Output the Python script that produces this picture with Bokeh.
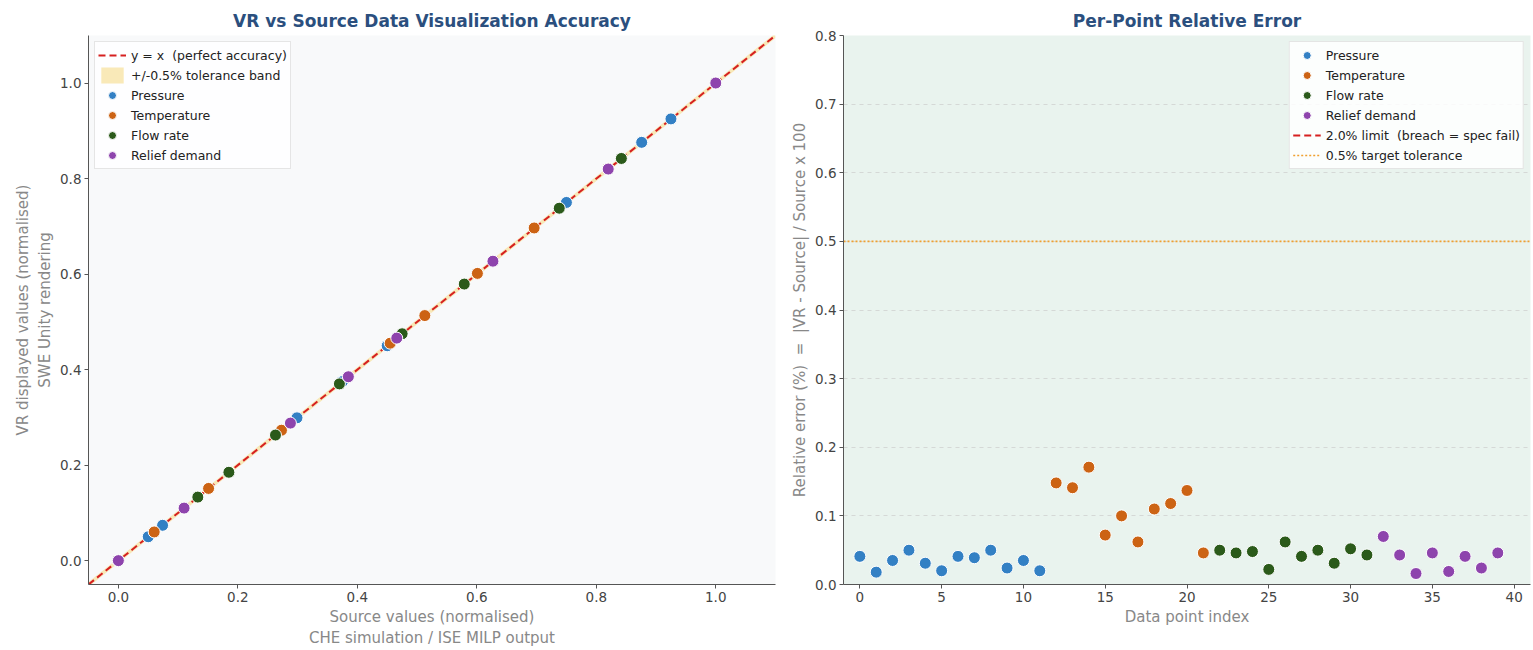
from bokeh.plotting import figure
from bokeh.layouts import row
from bokeh.models import Legend, LegendItem, FixedTicker, PrintfTickFormatter
from bokeh.embed import file_html
from bokeh.resources import INLINE

# ---------------- data ----------------
categories = ["Pressure", "Temperature", "Flow rate", "Relief demand"]
colors = ["#3380c4", "#cc6314", "#2b5a1a", "#8e44ad"]

# normalised source values per category (left panel, x)
src_pressure = [0.0, 0.05, 0.074, 0.299, 0.375, 0.45, 0.466, 0.75, 0.82, 0.876, 0.925, 1.0]
src_temperature = [0.0, 0.06, 0.151, 0.273, 0.455, 0.513, 0.601, 0.696, 0.82, 1.0]
src_flow = [0.0, 0.133, 0.185, 0.263, 0.37, 0.475, 0.579, 0.738, 0.842, 1.0]
src_relief = [0.0, 0.11, 0.288, 0.385, 0.466, 0.627, 0.82, 1.0]

# per-point relative error (%) (right panel, y)
err_pressure = [0.041, 0.018, 0.035, 0.050, 0.031, 0.020, 0.041, 0.039, 0.050, 0.024, 0.035, 0.020]
err_temperature = [0.148, 0.141, 0.171, 0.072, 0.100, 0.062, 0.110, 0.118, 0.137, 0.046]
err_flow = [0.050, 0.046, 0.048, 0.022, 0.062, 0.041, 0.050, 0.031, 0.052, 0.043]
err_relief = [0.070, 0.043, 0.016, 0.046, 0.019, 0.041, 0.024, 0.046]

limit_pct = 2.0
target_pct = 0.5
tol_band = 0.005

x_ticks_left = [0.0, 0.2, 0.4, 0.6, 0.8, 1.0]
x_ticks_right = [0, 5, 10, 15, 20, 25, 30, 35, 40]
y_ticks_right = [0.0, 0.1, 0.2, 0.3, 0.4, 0.5, 0.6, 0.7, 0.8]

sources = [src_pressure, src_temperature, src_flow, src_relief]
errors = [err_pressure, err_temperature, err_flow, err_relief]

FONT = "DejaVu Sans"
TITLE_COLOR = "#2b4f7e"
LABEL_COLOR = "#888888"
TICK_COLOR = "#444444"
NB = "\u00a0"


def style(p):
    p.title.text_font = FONT
    p.title.text_font_size = "17px"
    p.title.text_font_style = "bold"
    p.title.text_color = TITLE_COLOR
    p.title.align = "center"
    p.outline_line_color = None
    for ax in (p.xaxis[0], p.yaxis[0]):
        ax.axis_label_text_font = FONT
        ax.axis_label_text_font_size = "15px"
        ax.axis_label_text_font_style = "normal"
        ax.axis_label_text_color = LABEL_COLOR
        ax.major_label_text_font = FONT
        ax.major_label_text_font_size = "13.5px"
        ax.major_label_text_color = TICK_COLOR
        ax.axis_line_color = "#555555"
        ax.major_tick_line_color = "#555555"
        ax.major_tick_in = 0
        ax.major_tick_out = 4
        ax.minor_tick_line_color = None
        ax.axis_label_standoff = 3
        ax.major_label_standoff = 3


def style_legend(leg):
    leg.label_text_font = FONT
    leg.label_text_font_size = "12.5px"
    leg.label_text_color = "#222222"
    leg.glyph_height = 20
    leg.glyph_width = 28
    leg.label_height = 20
    leg.spacing = 0
    leg.padding = 3
    leg.margin = 6
    leg.border_line_color = "#cccccc"
    leg.background_fill_alpha = 0.85


# ---------------- left panel ----------------
p1 = figure(width=783, height=650, x_range=(-0.05, 1.10), y_range=(-0.05, 1.10),
            output_backend="svg", toolbar_location=None,
            title="VR vs Source Data Visualization Accuracy",
            min_border_left=88, min_border_right=8, min_border_top=35, min_border_bottom=65)
p1.background_fill_color = "#f8f9fa"
p1.xgrid.grid_line_color = None
p1.ygrid.grid_line_color = None
style(p1)
p1.xaxis.axis_label = "Source values (normalised)\nCHE simulation / ISE MILP output"
p1.yaxis.axis_label = "VR displayed values (normalised)\nSWE Unity rendering"
p1.xaxis.ticker = FixedTicker(ticks=x_ticks_left)
p1.yaxis.ticker = FixedTicker(ticks=x_ticks_left)
p1.xaxis.formatter = PrintfTickFormatter(format="%.1f")
p1.yaxis.formatter = PrintfTickFormatter(format="%.1f")

line_x = [-0.05, 1.10]
band = p1.varea(x=line_x, y1=[v - tol_band for v in line_x], y2=[v + tol_band for v in line_x],
                fill_color="#f7e4a6", fill_alpha=0.8)
diag = p1.line(x=line_x, y=line_x, line_color="#d62020", line_width=2, line_dash="7 4")

items1 = [LegendItem(label="y = x" + NB + NB + "(perfect accuracy)", renderers=[diag]),
          LegendItem(label="+/-0.5% tolerance band", renderers=[band])]
for cat, col, src, err in zip(categories, colors, sources, errors):
    vr = [s * (1 + e / 100.0) for s, e in zip(src, err)]
    r = p1.scatter(x=src, y=vr, size=12, fill_color=col, line_color="white", line_width=1)
    items1.append(LegendItem(label=cat, renderers=[r]))

leg1 = Legend(items=items1, location="top_left")
style_legend(leg1)
p1.add_layout(leg1)

# ---------------- right panel ----------------
p2 = figure(width=750, height=650, x_range=(-1, 41), y_range=(0, 0.8),
            output_backend="svg", toolbar_location=None,
            title="Per-Point Relative Error",
            min_border_left=60, min_border_right=3, min_border_top=35, min_border_bottom=65)
p2.background_fill_color = "#e9f3ee"
p2.xgrid.grid_line_color = None
p2.ygrid.grid_line_color = "#cccccc"
p2.ygrid.grid_line_dash = "4 4"
p2.ygrid.grid_line_alpha = 0.7
style(p2)
p2.xaxis.axis_label = "Data point index"
p2.yaxis.axis_label = ("Relative error (%)" + NB + NB + "=" + NB + NB +
                       "|VR - Source| / Source x 100")
p2.xaxis.ticker = FixedTicker(ticks=x_ticks_right)
p2.yaxis.ticker = FixedTicker(ticks=y_ticks_right)
p2.yaxis.formatter = PrintfTickFormatter(format="%.1f")

items2 = []
start = 0
for cat, col, err in zip(categories, colors, errors):
    idx = list(range(start, start + len(err)))
    start += len(err)
    r = p2.scatter(x=idx, y=err, size=12, fill_color=col, line_color="white", line_width=1)
    items2.append(LegendItem(label=cat, renderers=[r]))

lim = p2.line(x=[-1, 41], y=[limit_pct, limit_pct], line_color="#d62020", line_width=2, line_dash="7 4")
tgt = p2.line(x=[-1, 41], y=[target_pct, target_pct], line_color="#f0a030", line_width=1.6, line_dash="2 2")
items2.append(LegendItem(label="2.0% limit" + NB + NB + "(breach = spec fail)", renderers=[lim]))
items2.append(LegendItem(label="0.5% target tolerance", renderers=[tgt]))

leg2 = Legend(items=items2, location="top_right")
style_legend(leg2)
p2.add_layout(leg2)

layout = row(p1, p2)
open("out.html", "w").write(file_html(layout, INLINE))
